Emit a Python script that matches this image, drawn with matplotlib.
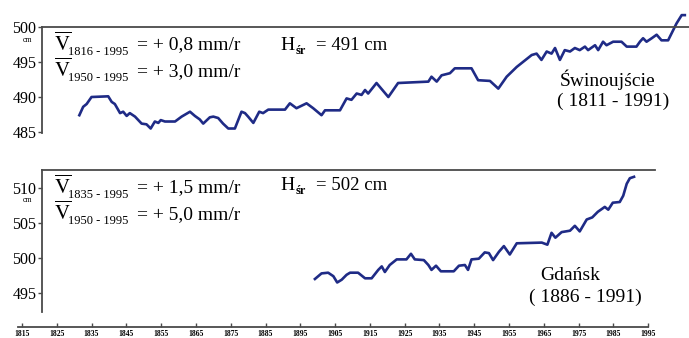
import matplotlib
matplotlib.use("Agg")
import matplotlib.pyplot as plt

plt.rcParams['font.family'] = ['Liberation Serif', 'DejaVu Serif']
plt.rcParams['mathtext.fontset'] = 'stix'

# Swinoujscie, mean sea level (cm)
swi_years = [1831.5, 1832.6, 1833.6, 1835.0, 1839.8, 1840.8, 1841.7, 1843.2, 1844.1, 1845.1,
             1846.0, 1847.5, 1849.4, 1850.8, 1852.0, 1853.2, 1854.2, 1854.9, 1856.1, 1859.0,
             1860.9, 1863.3, 1864.7, 1866.1, 1867.1, 1869.0, 1870.0, 1871.4, 1872.8, 1874.3,
             1876.2, 1878.1, 1879.1, 1880.0, 1881.5, 1883.2, 1884.3, 1885.8, 1890.6, 1892.0,
             1893.9, 1896.8, 1898.7, 1901.1, 1902.1, 1906.4, 1908.3, 1909.7, 1911.2, 1912.6,
             1913.6, 1914.5, 1916.9, 1920.3, 1923.1, 1931.8, 1932.7, 1934.2, 1935.6, 1938.0,
             1939.4, 1944.2, 1946.1, 1949.5, 1951.9, 1954.3, 1957.2, 1961.5, 1962.9, 1964.3,
             1965.8, 1967.2, 1968.2, 1969.6, 1971.0, 1972.5, 1973.9, 1975.3, 1976.8, 1977.7,
             1979.7, 1980.6, 1982.0, 1983.0, 1984.9, 1987.3, 1988.8, 1991.6, 1992.6, 1993.5,
             1994.5, 1996.0, 1997.4, 1998.8, 2000.7, 2002.2, 2003.1, 2004.6, 2005.5]
swi_level = [487.4, 488.6, 489.0, 490.0, 490.1, 489.3, 489.0, 487.7, 487.9, 487.3,
             487.7, 487.2, 486.2, 486.1, 485.5, 486.5, 486.3, 486.7, 486.5, 486.5,
             487.2, 487.9, 487.3, 486.8, 486.2, 487.1, 487.2, 487.0, 486.2, 485.5,
             485.5, 487.9, 487.7, 487.2, 486.3, 487.9, 487.7, 488.2, 488.2, 489.1,
             488.4, 489.1, 488.4, 487.4, 488.1, 488.1, 489.8, 489.6, 490.5, 490.3,
             491.0, 490.5, 492.0, 490.0, 492.0, 492.2, 492.9, 492.2, 493.1, 493.4,
             494.1, 494.1, 492.4, 492.3, 491.2, 492.9, 494.3, 496.0, 496.2, 495.3,
             496.5, 496.2, 497.0, 495.3, 496.7, 496.5, 497.0, 496.7, 497.2, 496.7,
             497.4, 496.7, 497.9, 497.4, 497.9, 497.9, 497.2, 497.2, 497.9, 498.4,
             497.9, 498.4, 498.9, 498.1, 498.1, 499.6, 500.5, 501.7, 501.7]

# Gdansk
gda_years = [1899.2, 1901.1, 1903.0, 1904.5, 1905.6, 1906.9, 1908.3, 1909.3, 1911.6, 1913.6,
             1915.5, 1917.4, 1918.4, 1919.3, 1920.7, 1922.7, 1925.5, 1926.8, 1927.9, 1930.5,
             1931.8, 1932.7, 1934.0, 1935.4, 1939.1, 1940.6, 1942.3, 1943.2, 1944.2, 1946.3,
             1948.0, 1949.2, 1950.4, 1952.1, 1953.5, 1955.2, 1957.2, 1964.4, 1966.0, 1967.2,
             1968.3, 1970.1, 1972.5, 1973.9, 1975.3, 1977.3, 1978.9, 1980.5, 1982.5, 1983.5,
             1984.8, 1986.8, 1987.8, 1988.8, 1989.7, 1990.9]
gda_level = [497.0, 497.8, 497.9, 497.4, 496.5, 496.9, 497.6, 497.9, 497.9, 497.1,
             497.1, 498.3, 498.8, 498.0, 499.0, 499.8, 499.8, 500.6, 499.8, 499.7,
             499.0, 498.3, 498.9, 498.1, 498.1, 498.9, 499.0, 498.3, 499.8, 499.9,
             500.8, 500.7, 499.7, 500.9, 501.7, 500.5, 502.1, 502.2, 501.9, 503.6,
             502.9, 503.7, 503.9, 504.6, 503.8, 505.5, 505.8, 506.6, 507.3, 506.9,
             507.9, 508.0, 508.9, 510.6, 511.4, 511.6]

swi_ticks = [485, 490, 495, 500]
gda_ticks = [495, 500, 505, 510]
year_ticks = list(range(1815, 1996, 10))

W, H = 689, 338
line_col = '#1f2b86'
frame_col = '#4a4a4a'

fig = plt.figure(figsize=(W / 100, H / 100), dpi=100)
fig.patch.set_facecolor('white')

xlim = (1808.7, 2006.7)
y_spine = 1820.75


def px(x, y):
    return x / W, 1 - y / H


def label(x, y, s, size=14, **kw):
    fig.text(*px(x, y), s, fontsize=size, ha='left', va='center', **kw)


# upper panel
ax1 = fig.add_axes([0, 1 - 150 / H, 1, 150 / H])
ax1.plot(swi_years, swi_level, color=line_col, lw=1.9, solid_joinstyle='round')
ax1.set_xlim(*xlim)
ax1.set_ylim(482.43, 503.86)
ax1.spines['bottom'].set_visible(False)
ax1.spines['right'].set_visible(False)
ax1.spines['left'].set_position(('data', y_spine))
ax1.spines['left'].set_bounds(484.9, 500)
ax1.spines['top'].set_position(('data', 500))
ax1.spines['top'].set_bounds(y_spine, xlim[1])
for s in ('left', 'top'):
    ax1.spines[s].set_color(frame_col)
    ax1.spines[s].set_linewidth(1.3)
ax1.set_xticks([])
ax1.set_yticks(swi_ticks)
ax1.tick_params(axis='y', direction='out', length=3, width=1, pad=1,
                labelsize=11.5, color=frame_col)
ax1.patch.set_alpha(0)

# lower panel
ax2 = fig.add_axes([0, 0, 1, 188 / H])
ax2.plot(gda_years, gda_level, color=line_col, lw=1.9, solid_joinstyle='round')
ax2.set_xlim(*xlim)
ax2.set_ylim(488.57, 515.43)
ax2.spines['right'].set_visible(False)
ax2.spines['left'].set_position(('data', y_spine))
ax2.spines['left'].set_bounds(492.3, 512.57)
ax2.spines['top'].set_position(('data', 512.57))
ax2.spines['top'].set_bounds(y_spine, 1996.9)
ax2.spines['bottom'].set_position(('data', 490.14))
ax2.spines['bottom'].set_bounds(1813.9, 1995)
for s in ('left', 'top', 'bottom'):
    ax2.spines[s].set_color(frame_col)
    ax2.spines[s].set_linewidth(1.3)
ax2.set_yticks(gda_ticks)
ax2.tick_params(axis='y', direction='out', length=3, width=1, pad=1,
                labelsize=11.5, color=frame_col)
ax2.set_xticks(year_ticks)
ax2.set_xticklabels([str(y) for y in year_ticks], fontweight='bold')
ax2.tick_params(axis='x', direction='in', length=3, width=1, pad=2,
                labelsize=5.5, color=frame_col)
ax2.patch.set_alpha(0)

# small "cm" under the top tick labels
label(23, 39.5, 'cm', size=5.5)
label(23, 200.5, 'cm', size=5.5)

vbar = r'$\overline{\mathrm{V}}$'

# upper panel annotations
label(54, 44, vbar, size=15)
label(68, 52, '1816 - 1995', size=9)
label(137, 45, '= + 0,8 mm/r')
label(54, 70, vbar, size=15)
label(68, 78, '1950 - 1995', size=9)
label(137, 72, '= + 3,0 mm/r')
label(280, 45, 'H', size=14)
label(296, 51, 'śr', size=9, fontweight='bold')
label(316, 45, '= 491 cm', size=13.5)
label(560, 80, 'Świnoujście')
label(557, 101, '( 1811 - 1991)')

# lower panel annotations
label(54, 187, vbar, size=15)
label(68, 195, '1835 - 1995', size=9)
label(137, 188, '= + 1,5 mm/r')
label(54, 213, vbar, size=15)
label(68, 221, '1950 - 1995', size=9)
label(137, 215, '= + 5,0 mm/r')
label(280, 185, 'H', size=14)
label(296, 191, 'śr', size=9, fontweight='bold')
label(316, 185, '= 502 cm', size=13.5)
label(540, 275, 'Gdańsk')
label(529, 297, '( 1886 - 1991)')

fig.savefig('out.png', dpi=100)
